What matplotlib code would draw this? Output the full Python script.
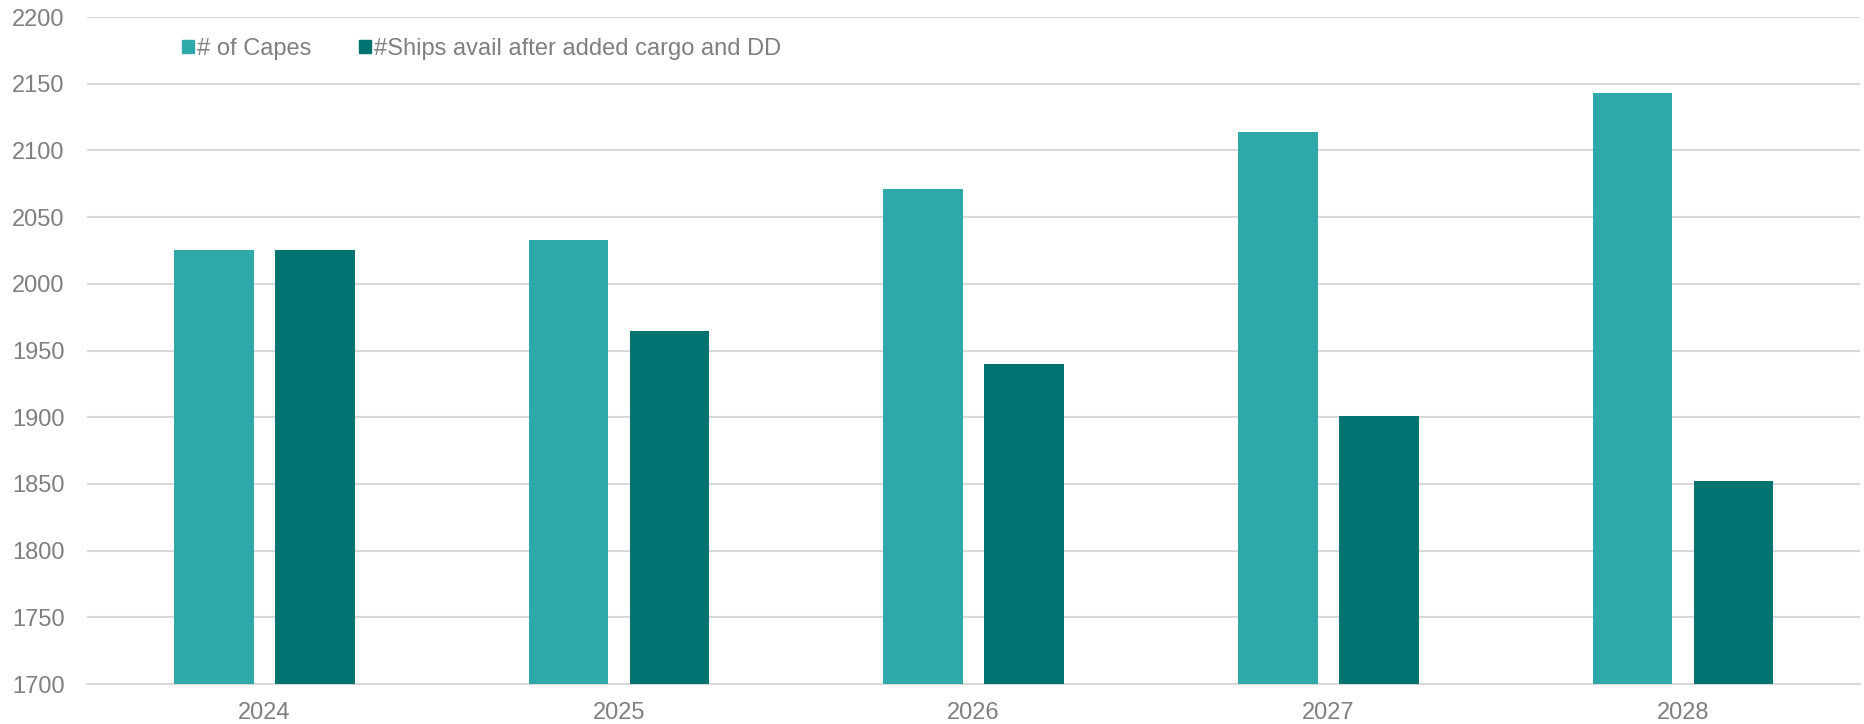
import numpy as np
import matplotlib.pyplot as plt
from matplotlib.patches import Patch

years = ['2024', '2025', '2026', '2027', '2028']
capes = [2025, 2033, 2071, 2114, 2143]
ships_avail = [2025, 1965, 1940, 1901, 1852]

light_teal = '#2EA8A9'
dark_teal = '#00726F'
text_grey = '#7F7F7F'
grid_grey = '#D9D9D9'

plt.rcParams['font.family'] = ['Liberation Sans', 'DejaVu Sans']

fig = plt.figure(figsize=(18.64, 7.24), dpi=100)
ax = fig.add_axes([0.0467, 0.0552, 0.9513, 0.9213])

x = np.arange(len(years))
w = 0.225
off = 0.1425
ax.bar(x - off, np.array(capes) - 1700, w, bottom=1700, color=light_teal, zorder=3)
ax.bar(x + off, np.array(ships_avail) - 1700, w, bottom=1700, color=dark_teal, zorder=3)

ax.set_xlim(-0.5, len(years) - 0.5)
ax.set_ylim(1700, 2200)
ax.set_yticks(range(1700, 2201, 50))
ax.set_xticks(x)
ax.set_xticklabels(years)
ax.grid(axis='y', color=grid_grey, linewidth=1.5, zorder=0)
ax.tick_params(axis='both', length=0, labelsize=17, colors=text_grey)
ax.tick_params(axis='y', pad=16)
ax.tick_params(axis='x', pad=13)
for s in ['top', 'right', 'left']:
    ax.spines[s].set_visible(False)
ax.spines['bottom'].set_color(grid_grey)
ax.spines['bottom'].set_linewidth(1.5)

handles = [Patch(color=light_teal, label='# of Capes'),
           Patch(color=dark_teal, label='#Ships avail after added cargo and DD')]
leg = ax.legend(handles=handles, loc='center left', bbox_to_anchor=(0.0535, 0.952),
                ncol=2, frameon=False, fontsize=17, handlelength=0.5, handleheight=0.5,
                handletextpad=0.15, columnspacing=2.0, borderpad=0, borderaxespad=0)
for t in leg.get_texts():
    t.set_color(text_grey)

fig.savefig('out.png', dpi=100)
